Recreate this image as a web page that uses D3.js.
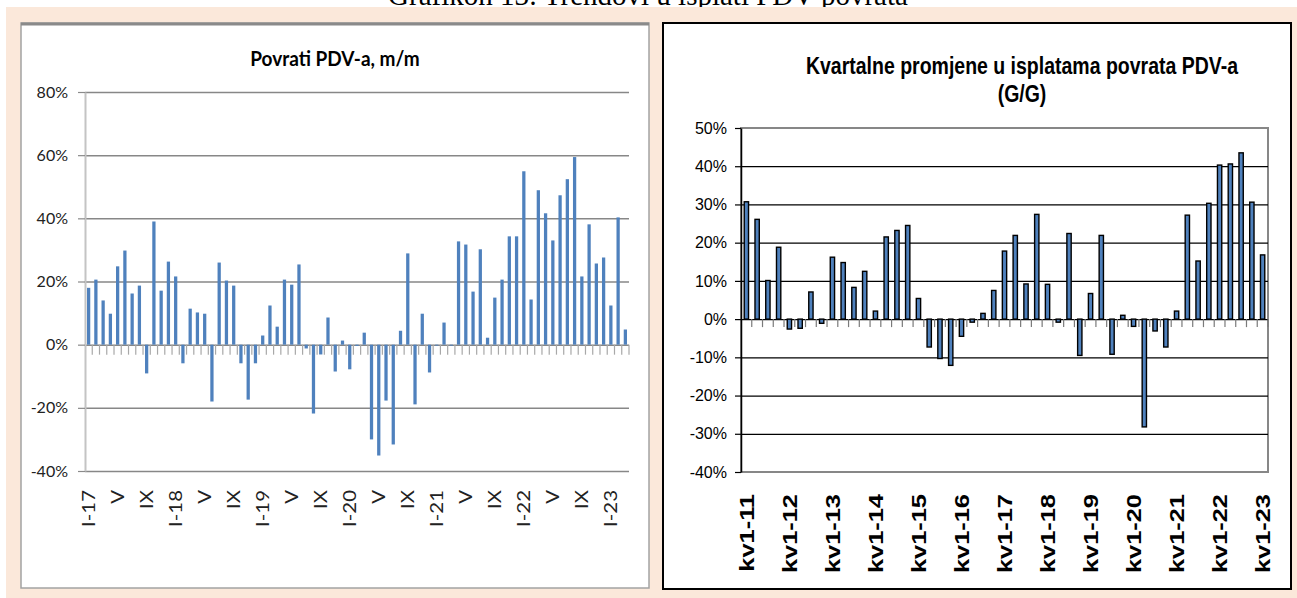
<!DOCTYPE html>
<html>
<head>
<meta charset="utf-8">
<script src="https://cdn.jsdelivr.net/npm/d3@7"></script>
<style>
  body { margin: 0; background: #fff; }
  svg { display: block; }
</style>
</head>
<body>
<script>

// m/m change of VAT refunds, monthly I-17 .. III-23
var months = [
  "I-17","II-17","III-17","IV-17","V-17","VI-17","VII-17","VIII-17","IX-17","X-17","XI-17","XII-17",
  "I-18","II-18","III-18","IV-18","V-18","VI-18","VII-18","VIII-18","IX-18","X-18","XI-18","XII-18",
  "I-19","II-19","III-19","IV-19","V-19","VI-19","VII-19","VIII-19","IX-19","X-19","XI-19","XII-19",
  "I-20","II-20","III-20","IV-20","V-20","VI-20","VII-20","VIII-20","IX-20","X-20","XI-20","XII-20",
  "I-21","II-21","III-21","IV-21","V-21","VI-21","VII-21","VIII-21","IX-21","X-21","XI-21","XII-21",
  "I-22","II-22","III-22","IV-22","V-22","VI-22","VII-22","VIII-22","IX-22","X-22","XI-22","XII-22",
  "I-23","II-23","III-23"
];
var monthValues = [
  18.0, 20.6, 14.0, 9.8, 24.8, 29.8, 16.2, 18.7, -9.1, 39.0, 17.1, 26.3,
  21.6, -5.9, 11.4, 10.2, 9.8, -18.0, 26.0, 20.3, 18.7, -5.9, -17.4, -5.9,
  2.9, 12.4, 5.7, 20.6, 19.0, 25.4, -1.2, -21.8, -3.1, 8.6, -8.5, 1.3,
  -7.8, -0.4, 3.8, -30.0, -35.1, -17.7, -31.6, 4.4, 28.9, -18.9, 9.8, -8.8,
  -0.3, 7.0, -0.3, 32.7, 31.7, 16.8, 30.2, 2.2, 14.9, 20.6, 34.3, 34.3,
  54.9, 14.3, 48.9, 41.6, 33.0, 47.3, 52.4, 59.4, 21.6, 38.1, 25.7, 27.6,
  12.4, 40.3, 4.8
];

// y/y change of quarterly VAT refund payments, kv1-11 .. kv1-23
var quarters = [
  "kv1-11","kv2-11","kv3-11","kv4-11","kv1-12","kv2-12","kv3-12","kv4-12",
  "kv1-13","kv2-13","kv3-13","kv4-13","kv1-14","kv2-14","kv3-14","kv4-14",
  "kv1-15","kv2-15","kv3-15","kv4-15","kv1-16","kv2-16","kv3-16","kv4-16",
  "kv1-17","kv2-17","kv3-17","kv4-17","kv1-18","kv2-18","kv3-18","kv4-18",
  "kv1-19","kv2-19","kv3-19","kv4-19","kv1-20","kv2-20","kv3-20","kv4-20",
  "kv1-21","kv2-21","kv3-21","kv4-21","kv1-22","kv2-22","kv3-22","kv4-22",
  "kv1-23"
];
var quarterValues = [
  30.7, 26.1, 10.1, 18.8, -2.6, -2.4, 7.1, -1.1, 16.2, 14.8,
  8.3, 12.5, 2.1, 21.5, 23.2, 24.5, 5.4, -7.3, -10.3, -12.1,
  -4.5, -0.8, 1.5, 7.5, 17.8, 21.9, 9.2, 27.4, 9.1, -0.8,
  22.4, -9.5, 6.7, 21.9, -9.2, 1.0, -1.9, -28.2, -3.1, -7.3,
  2.1, 27.2, 15.2, 30.3, 40.3, 40.6, 43.5, 30.6, 16.8
];

var leftTicks = [-0.4, -0.2, 0, 0.2, 0.4, 0.6, 0.8];
var rightTicks = [-0.4, -0.3, -0.2, -0.1, 0, 0.1, 0.2, 0.3, 0.4, 0.5];

var width = 1297, height = 598;
var leftFont = "Lato, 'Liberation Sans', sans-serif",
    rightFont = "'Liberation Sans', Arial, sans-serif";

function pct(d) { return Math.round(d * 100) + "%"; }

var svg = d3.select("body").append("svg")
  .attr("width", width)
  .attr("height", height);

// page title, only its lower part shows above the frame (as in the source)
svg.append("text")
  .attr("x", 648)
  .attr("y", 5)
  .attr("text-anchor", "middle")
  .attr("font-family", "'Liberation Serif', serif")
  .attr("font-size", "29px")
  .text("Grafikon 13: Trendovi u isplati PDV povrata");

svg.append("rect")
  .attr("x", 6).attr("y", 7)
  .attr("width", width - 6).attr("height", height - 7)
  .attr("fill", "#fbe8da");

// ---------- left panel ----------
svg.append("rect")
  .attr("x", 21).attr("y", 23)
  .attr("width", 628).attr("height", 565)
  .attr("fill", "#fff")
  .attr("stroke", "#a3a3a3")
  .attr("stroke-width", 1.5);
svg.append("line")
  .attr("x1", 21).attr("x2", 649)
  .attr("y1", 24).attr("y2", 24)
  .attr("stroke", "#8a8a8a").attr("stroke-width", 3);

var xL = d3.scaleBand().domain(months).range([85, 629])
  .paddingInner(0.55).paddingOuter(0.275);
var yL = d3.scaleLinear().domain([-0.4, 0.8]).range([471, 92]);

var gL = svg.append("g");

gL.append("text")
  .attr("transform", "translate(335,66) scale(0.95,1.05)")
  .attr("text-anchor", "middle")
  .attr("font-family", leftFont)
  .attr("font-weight", "bold")
  .attr("font-size", "20px")
  .text("Povrati PDV-a, m/m");

// gridlines
gL.append("g")
  .attr("transform", "translate(85,0)")
  .call(d3.axisLeft(yL).tickValues(leftTicks).tickSize(-(629 - 85)).tickFormat(""))
  .call(function (g) { g.select(".domain").remove(); })
  .selectAll("line")
    .attr("stroke", "#878787")
    .attr("stroke-width", 1.5);

// little category ticks under the zero line
gL.selectAll(".ctick")
  .data(months)
  .join("line")
    .attr("class", "ctick")
    .attr("x1", function (d) { return xL(d) + xL.bandwidth() + xL.step() * xL.paddingInner() / 2; })
    .attr("x2", function (d) { return xL(d) + xL.bandwidth() + xL.step() * xL.paddingInner() / 2; })
    .attr("y1", yL(0))
    .attr("y2", yL(0) + 10)
    .attr("stroke", "#a8a8a8")
    .attr("stroke-width", 1.2);

var leftData = months.map(function (m, i) { return {cat: m, v: monthValues[i] / 100}; });

gL.selectAll(".bar")
  .data(leftData)
  .join("rect")
    .attr("class", "bar")
    .attr("x", function (d) { return xL(d.cat); })
    .attr("width", xL.bandwidth())
    .attr("y", function (d) { return yL(Math.max(d.v, 0)); })
    .attr("height", function (d) { return Math.abs(yL(d.v) - yL(0)); })
    .attr("fill", "#4f81bd");

// y axis
var axL = gL.append("g")
  .attr("transform", "translate(85,0)")
  .call(d3.axisLeft(yL).tickValues(leftTicks).tickSize(7).tickSizeOuter(0).tickPadding(10).tickFormat(pct));
axL.select(".domain").attr("stroke", "#c4c4c4").attr("stroke-width", 2);
axL.selectAll(".tick line").attr("stroke", "#8a8a8a").attr("stroke-width", 1.2);
axL.selectAll("text")
  .attr("font-family", leftFont)
  .attr("font-size", "16px")
  .attr("fill", "#222");

// x labels
gL.selectAll(".xlab")
  .data(months.filter(function (d, i) { return i % 4 === 0; }))
  .join("text")
    .attr("class", "xlab")
    .attr("transform", function (d) {
      return "translate(" + (xL(d) + xL.bandwidth() / 2) + ",490) rotate(-90) scale(1.2,1)";
    })
    .attr("dy", "0.35em")
    .attr("text-anchor", "end")
    .attr("font-family", leftFont)
    .attr("font-size", "17px")
    .attr("fill", "#222")
    .text(function (d) { return d.indexOf("I-") === 0 ? d : d.split("-")[0]; });

// ---------- right panel ----------
svg.append("rect")
  .attr("x", 663).attr("y", 23)
  .attr("width", 628).attr("height", 566)
  .attr("fill", "#fff")
  .attr("stroke", "#000")
  .attr("stroke-width", 2);

var xR = d3.scaleBand().domain(quarters).range([741, 1268])
  .paddingInner(0.6).paddingOuter(0.3);
var yR = d3.scaleLinear().domain([-0.4, 0.5]).range([472, 128]);

var gR = svg.append("g");

var title = gR.append("text")
  .attr("text-anchor", "middle")
  .attr("font-family", rightFont)
  .attr("font-weight", "bold")
  .attr("font-size", "19.5px")
  .attr("transform", "translate(1022,0) scale(1,1.18)");
title.append("tspan").attr("x", 0).attr("y", 74 / 1.18).text("Kvartalne promjene u isplatama povrata PDV-a");
title.append("tspan").attr("x", 0).attr("y", 102 / 1.18).text("(G/G)");

// plot border
gR.append("rect")
  .attr("x", 741).attr("y", yR(0.5))
  .attr("width", 1268 - 741).attr("height", yR(-0.4) - yR(0.5))
  .attr("fill", "none")
  .attr("stroke", "#878787")
  .attr("stroke-width", 2);

// gridlines (inner ones black)
gR.append("g")
  .attr("transform", "translate(741,0)")
  .call(d3.axisLeft(yR).tickValues(rightTicks.slice(1, -1)).tickSize(-(1268 - 741)).tickFormat(""))
  .call(function (g) { g.select(".domain").remove(); })
  .selectAll("line")
    .attr("stroke", "#000")
    .attr("stroke-width", 1.2);

gR.selectAll(".ctick")
  .data(quarters)
  .join("line")
    .attr("class", "ctick")
    .attr("x1", function (d) { return xR(d) + xR.bandwidth() + xR.step() * xR.paddingInner() / 2; })
    .attr("x2", function (d) { return xR(d) + xR.bandwidth() + xR.step() * xR.paddingInner() / 2; })
    .attr("y1", yR(0))
    .attr("y2", yR(0) + 8)
    .attr("stroke", "#7a7a7a")
    .attr("stroke-width", 1.2);

var rightData = quarters.map(function (q, i) { return {cat: q, v: quarterValues[i] / 100}; });

gR.selectAll(".bar")
  .data(rightData)
  .join("rect")
    .attr("class", "bar")
    .attr("x", function (d) { return xR(d.cat); })
    .attr("width", xR.bandwidth())
    .attr("y", function (d) { return yR(Math.max(d.v, 0)); })
    .attr("height", function (d) { return Math.max(Math.abs(yR(d.v) - yR(0)), 1); })
    .attr("fill", "#4f81bd")
    .attr("stroke", "#000")
    .attr("stroke-width", 1.4);

var axR = gR.append("g")
  .attr("transform", "translate(741,0)")
  .call(d3.axisLeft(yR).tickValues(rightTicks).tickSize(6).tickSizeOuter(0).tickPadding(8).tickFormat(pct));
axR.select(".domain").attr("stroke", "#000").attr("stroke-width", 1.5);
axR.selectAll(".tick line").attr("stroke", "#000").attr("stroke-width", 1.2);
axR.selectAll("text")
  .attr("font-family", rightFont)
  .attr("font-size", "16px")
  .attr("fill", "#000");

gR.selectAll(".xlab")
  .data(quarters.filter(function (d, i) { return i % 4 === 0; }))
  .join("text")
    .attr("class", "xlab")
    .attr("transform", function (d) {
      return "translate(" + (xR(d) + xR.bandwidth() / 2) + ",494) rotate(-90) scale(1.27,1)";
    })
    .attr("dy", "0.36em")
    .attr("text-anchor", "end")
    .attr("font-family", rightFont)
    .attr("font-weight", "bold")
    .attr("font-size", "20px")
    .attr("fill", "#000")
    .text(function (d) { return d; });

</script>
</body>
</html>
